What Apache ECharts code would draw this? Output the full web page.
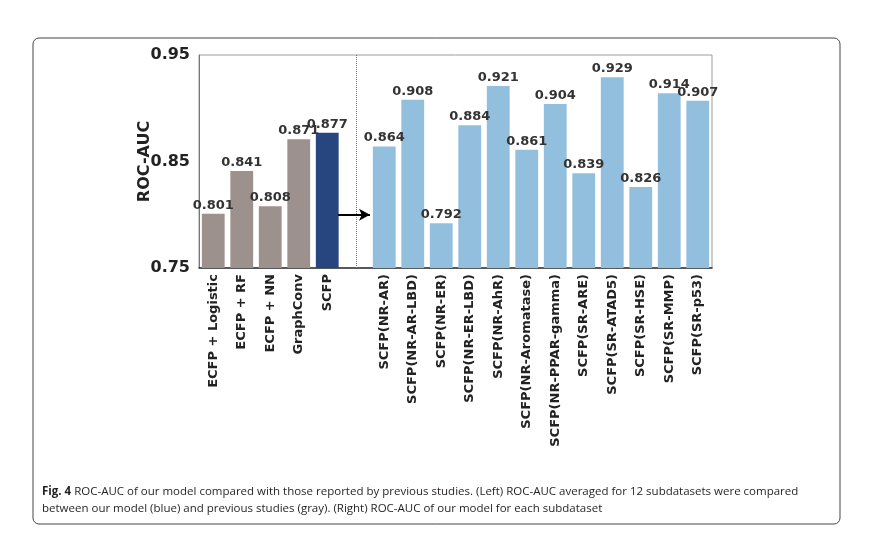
<!DOCTYPE html>
<html>
<head>
<meta charset="utf-8">
<script src="https://cdn.jsdelivr.net/npm/echarts@6/dist/echarts.min.js"></script>
<style>html,body{margin:0;padding:0;background:#fff;}#c{width:873px;height:550px;}</style>
</head>
<body>
<div id="c"></div>
<script>
const categories = ['ECFP + Logistic','ECFP + RF','ECFP + NN','GraphConv','SCFP','',
  'SCFP(NR-AR)','SCFP(NR-AR-LBD)','SCFP(NR-ER)','SCFP(NR-ER-LBD)','SCFP(NR-AhR)','SCFP(NR-Aromatase)',
  'SCFP(NR-PPAR-gamma)','SCFP(SR-ARE)','SCFP(SR-ATAD5)','SCFP(SR-HSE)','SCFP(SR-MMP)','SCFP(SR-p53)'];
const values = [0.801,0.841,0.808,0.871,0.877,null,
  0.864,0.908,0.792,0.884,0.921,0.861,0.904,0.839,0.929,0.826,0.914,0.907];
const groups = ['prev','prev','prev','prev','ours','none',
  'sub','sub','sub','sub','sub','sub','sub','sub','sub','sub','sub','sub'];
const yTicks = [0.75,0.85,0.95];
const colors = {prev:'#9d918d', ours:'#27467f', sub:'#93bfdf', none:'#fff'};
const separatorX = 5.5;
const arrowFrom = [4.88, 0.80];
const arrowTo = [6.0, 0.80];

const chart = echarts.init(document.getElementById('c'));
const font = 'DejaVu Sans';
chart.setOption({
  animation:false,
  grid:{left:199,right:161,top:55,bottom:282,show:true,borderColor:'#9a9a9a',borderWidth:1},
  xAxis:[{
    type:'category', data:categories, boundaryGap:true,
    axisLine:{lineStyle:{color:'#333',width:1.5}}, axisTick:{show:false},
    axisLabel:{rotate:90,interval:0,margin:6,color:'#222',fontFamily:font,fontWeight:'bold',fontSize:13}
  },{
    type:'value', min:0, max:18, show:false
  }],
  yAxis:{
    type:'value', min:0.75, max:0.95, interval:0.05,
    name:'ROC-AUC', nameLocation:'middle', nameGap:46, nameMoveOverlap:false,
    nameTextStyle:{fontFamily:font,fontWeight:'bold',fontSize:16,color:'#222'},
    axisLine:{show:true,lineStyle:{color:'#777'}}, axisTick:{show:false}, splitLine:{show:false},
    axisLabel:{margin:9,color:'#222',fontFamily:font,fontWeight:'bold',fontSize:16,
      formatter:v=>{const t=yTicks.find(x=>Math.abs(x-v)<1e-6);return t===undefined?'':t.toFixed(2);}}
  },
  series:[{
    type:'bar', barWidth:'80%',
    data:values.map((v,i)=>({value:v===null?'-':v,itemStyle:{color:colors[groups[i]]}})),
    label:{show:true,position:'top',distance:2,color:'#333',fontFamily:font,fontWeight:'bold',fontSize:13,
      formatter:p=>typeof p.value==='number'?p.value.toFixed(3):''}
  },{
    type:'line', xAxisIndex:1, data:[], symbol:'none', showSymbol:false,
    silent:true,
    markLine:{silent:true,animation:false,label:{show:false},symbol:['none','none'],
      lineStyle:{type:'dotted',color:'#777',width:1},
      data:[{xAxis:separatorX}]
    }
  },{
    type:'line', xAxisIndex:1, data:[], symbol:'none', showSymbol:false,
    silent:true,
    markLine:{silent:true,animation:false,label:{show:false},symbol:['none','arrow'],symbolSize:[9,11],
      lineStyle:{color:'#000',width:2,type:'solid'},
      data:[[{coord:arrowFrom},{coord:arrowTo}]]
    }
  }],
  graphic:[
    {type:'rect',shape:{x:33,y:38,width:807,height:486,r:6},style:{fill:'none',stroke:'#444',lineWidth:1}},
    {type:'text',left:42,top:483,style:{
      text:'{b|Fig. 4} ROC-AUC of our model compared with those reported by previous studies. (Left) ROC-AUC averaged for 12 subdatasets were compared\nbetween our model (blue) and previous studies (gray). (Right) ROC-AUC of our model for each subdataset',
      fontFamily:'Open Sans',fontSize:11.5,fill:'#231f20',lineHeight:17,
      rich:{b:{fontFamily:'Open Sans',fontWeight:'bold',fontSize:11.5,fill:'#231f20',lineHeight:17}}
    }}
  ]
});
</script>
</body>
</html>
